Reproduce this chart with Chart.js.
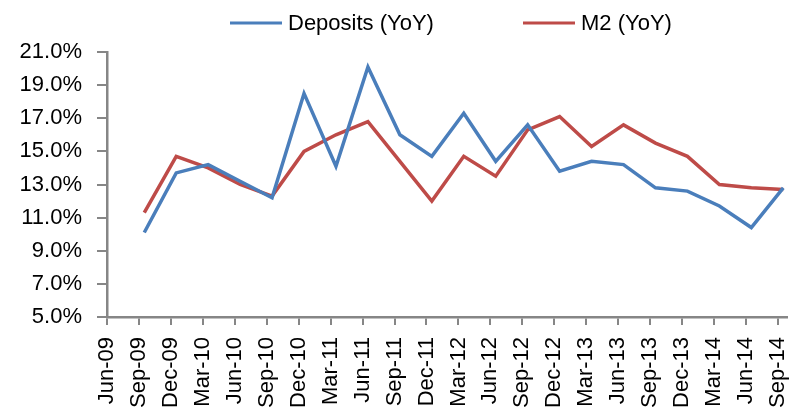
<!DOCTYPE html>
<html>
<head>
<meta charset="utf-8">
<script src="https://cdn.jsdelivr.net/npm/chart.js"></script>
<style>
    body { margin: 0; background: #fff; }
    #chartBox { width: 798px; height: 407px; }
</style>
</head>
<body>
<div id="chartBox"><canvas id="depChart" width="798" height="407"></canvas></div>
<script>
var categories = ['Jun-09', 'Sep-09', 'Dec-09', 'Mar-10', 'Jun-10', 'Sep-10', 'Dec-10', 'Mar-11',
    'Jun-11', 'Sep-11', 'Dec-11', 'Mar-12', 'Jun-12', 'Sep-12', 'Dec-12', 'Mar-13',
    'Jun-13', 'Sep-13', 'Dec-13', 'Mar-14', 'Jun-14', 'Sep-14'];
var deposits = [null, 10.1, 13.7, 14.2, 13.2, 12.2, 18.5, 14.1, 20.1, 16.0, 14.7, 17.3,
    14.4, 16.6, 13.8, 14.4, 14.2, 12.8, 12.6, 11.7, 10.4, 12.8];
var m2 = [null, 11.3, 14.7, 14.0, 13.0, 12.3, 15.0, 16.0, 16.8, 14.4, 12.0, 14.7,
    13.5, 16.3, 17.1, 15.3, 16.6, 15.5, 14.7, 13.0, 12.8, 12.7];
var yTicks = [5, 7, 9, 11, 13, 15, 17, 19, 21];

// x axis is in months from Jun-09, one tick per quarter, values sit mid-month
var MONTHS_PER_TICK = 3;
var MID_MONTH = 0.5;

var FONT = "'Liberation Sans', Arial, sans-serif";
var AXIS_GREY = '#868686';

function toPoints(series) {
    return series.map(function (v, i) {
        return { x: i * MONTHS_PER_TICK + MID_MONTH, y: v };
    });
}

var topLegend = {
    id: 'topLegend',
    afterDraw: function (chart) {
        var ctx = chart.ctx;
        var xs = [230, 523];
        ctx.save();
        ctx.font = '22px ' + FONT;
        ctx.textBaseline = 'middle';
        chart.data.datasets.forEach(function (ds, i) {
            ctx.strokeStyle = ds.borderColor;
            ctx.lineWidth = 3;
            ctx.beginPath();
            ctx.moveTo(xs[i], 23);
            ctx.lineTo(xs[i] + 52, 23);
            ctx.stroke();
            ctx.fillStyle = '#000';
            ctx.fillText(ds.label, xs[i] + 58, 24);
        });
        ctx.restore();
    }
};

var ctx = document.getElementById('depChart');
var depChart = new Chart(ctx, {
    type: 'line',
    data: {
        datasets: [{
            label: 'Deposits (YoY)',
            data: toPoints(deposits),
            borderColor: '#4a7ebb',
            borderWidth: 3.5,
            pointRadius: 0,
            tension: 0
        }, {
            label: 'M2 (YoY)',
            data: toPoints(m2),
            borderColor: '#be4b48',
            borderWidth: 3.5,
            pointRadius: 0,
            tension: 0
        }]
    },
    options: {
        responsive: false,
        animation: false,
        layout: { padding: { top: 52, right: 11, left: 0, bottom: 0 } },
        plugins: {
            legend: { display: false },
            tooltip: { enabled: false }
        },
        scales: {
            x: {
                type: 'linear',
                min: 0,
                max: (categories.length - 1) * MONTHS_PER_TICK + 0.85,
                afterBuildTicks: function (scale) {
                    scale.ticks = categories.map(function (c, i) {
                        return { value: i * MONTHS_PER_TICK };
                    });
                },
                afterFit: function (scale) {
                    scale.height = 90;
                    scale.paddingLeft = 0;
                    scale.paddingRight = 0;
                },
                grid: {
                    display: true,
                    drawOnChartArea: false,
                    drawTicks: true,
                    tickLength: 8,
                    color: AXIS_GREY,
                    lineWidth: 2
                },
                border: { display: true, color: AXIS_GREY, width: 2.5 },
                ticks: {
                    autoSkip: false,
                    minRotation: 90,
                    maxRotation: 90,
                    padding: 12,
                    color: '#000',
                    font: { family: FONT, size: 22 },
                    callback: function (v) {
                        return categories[Math.round(v / MONTHS_PER_TICK)];
                    }
                }
            },
            y: {
                min: yTicks[0],
                max: yTicks[yTicks.length - 1],
                afterBuildTicks: function (scale) {
                    scale.ticks = yTicks.map(function (t) { return { value: t }; });
                },
                afterFit: function (scale) { scale.width = 107; },
                grid: {
                    display: true,
                    drawOnChartArea: false,
                    drawTicks: true,
                    tickLength: 10,
                    color: AXIS_GREY,
                    lineWidth: 2
                },
                border: { display: true, color: AXIS_GREY, width: 2.5 },
                ticks: {
                    padding: 15,
                    color: '#000',
                    font: { family: FONT, size: 22 },
                    callback: function (v) { return v.toFixed(1) + '%'; }
                }
            }
        }
    },
    plugins: [topLegend]
});
</script>
</body>
</html>
